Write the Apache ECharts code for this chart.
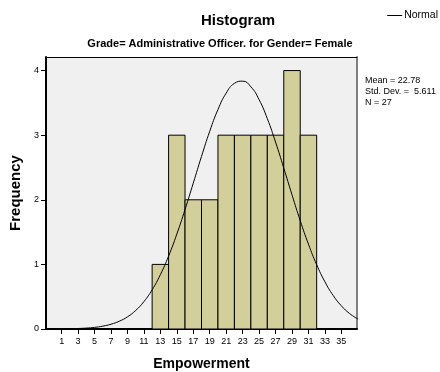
<!DOCTYPE html>
<html>
<head>
<meta charset="utf-8">
<script src="https://cdn.jsdelivr.net/npm/echarts@6/dist/echarts.min.js"></script>
<style>
  html, body { margin: 0; padding: 0; background: #fff; }
  #chart { width: 440px; height: 372px; }
</style>
</head>
<body>
<div id="chart"></div>
<script>
// Histogram bins (lower edge, upper edge) and their counts
const binStarts = [12, 14, 16, 18, 20, 22, 24, 26, 28, 30];
const binEnds   = [14, 16, 18, 20, 22, 24, 26, 28, 30, 32];
const binCounts = [1, 3, 2, 2, 3, 3, 3, 3, 4, 3];

// Fitted normal curve, sampled at whole Empowerment values
const curveX = [-1, 0, 1, 2, 3, 4, 5, 6, 7, 8, 9, 10, 11, 12, 13, 14, 15, 16, 17, 18,
                19, 20, 21, 22, 23, 24, 25, 26, 27, 28, 29, 30, 31, 32, 33, 34, 35, 36, 37];
const curveY = [0.0005, 0.001, 0.002, 0.004, 0.008, 0.014, 0.025, 0.044, 0.074, 0.120,
                0.188, 0.287, 0.424, 0.607, 0.841, 1.129, 1.469, 1.850, 2.258, 2.671,
                3.060, 3.396, 3.651, 3.802, 3.836, 3.749, 3.550, 3.256, 2.893, 2.491,
                2.077, 1.677, 1.313, 0.995, 0.731, 0.520, 0.359, 0.239, 0.155];

// Axis ticks
const xTicks = [1, 3, 5, 7, 9, 11, 13, 15, 17, 19, 21, 23, 25, 27, 29, 31, 33, 35];
const yTicks = [0, 1, 2, 3, 4];

// Summary statistics
const statLines = ['Mean = 22.78', 'Std. Dev. =  5.611', 'N = 27'];

const FONT = '"Liberation Sans", Arial, sans-serif';

const chart = echarts.init(document.getElementById('chart'), null, { renderer: 'canvas' });

const histData = binStarts.map((s, i) => [s, binEnds[i], binCounts[i]]);
const curveData = curveX.map((x, i) => [x, curveY[i]]);

chart.setOption({
  animation: false,
  backgroundColor: '#ffffff',
  textStyle: { fontFamily: FONT },
  title: [
    {
      text: 'Histogram',
      left: 238, top: 13, textAlign: 'center', padding: 0,
      textStyle: { fontFamily: FONT, fontSize: 15, fontWeight: 'bold', color: '#000' }
    },
    {
      text: 'Grade= Administrative Officer. for Gender= Female',
      left: 220, top: 38, textAlign: 'center', padding: 0,
      textStyle: { fontFamily: FONT, fontSize: 11, fontWeight: 'bold', color: '#000' }
    },
    {
      text: statLines.join('\n'),
      left: 365, top: 75, padding: 0,
      textStyle: { fontFamily: FONT, fontSize: 9, fontWeight: 'normal', color: '#000', lineHeight: 11 }
    }
  ],
  legend: {
    data: ['Normal'],
    right: 2, top: 10, padding: 0,
    icon: 'rect',
    itemWidth: 15, itemHeight: 1,
    itemGap: 4,
    textStyle: { fontFamily: FONT, fontSize: 10.5, color: '#000', padding: [0, 0, 0, -3] }
  },
  grid: {
    left: 46, right: 83, top: 57, bottom: 43,
    outerBoundsMode: 'none',
    containLabel: false,
    show: true,
    backgroundColor: '#f0f0f0',
    borderWidth: 0
  },
  xAxis: [
    {
      type: 'value',
      min: -0.9, max: 36.9,
      name: 'Empowerment',
      nameLocation: 'middle',
      nameGap: 28,
      nameTextStyle: { fontFamily: FONT, fontSize: 14, fontWeight: 'bold', color: '#000' },
      axisLine: { show: true, onZero: false, lineStyle: { color: '#000', width: 2 } },
      axisTick: { show: true, length: 5, customValues: xTicks, lineStyle: { color: '#000', width: 1 } },
      axisLabel: { show: true, customValues: xTicks, fontFamily: FONT, fontSize: 9, color: '#000', margin: 8 },
      splitLine: { show: false }
    },
    {
      type: 'value',
      position: 'top',
      min: -0.9, max: 36.9,
      axisLine: { show: true, onZero: false, lineStyle: { color: '#000', width: 1 } },
      axisTick: { show: false },
      axisLabel: { show: false },
      splitLine: { show: false }
    }
  ],
  yAxis: [
    {
      type: 'value',
      min: 0, max: 4.21,
      name: 'Frequency',
      nameLocation: 'middle',
      nameGap: 22,
      nameRotate: 90,
      nameTextStyle: { fontFamily: FONT, fontSize: 15, fontWeight: 'bold', color: '#000' },
      axisLine: { show: true, onZero: false, lineStyle: { color: '#000', width: 2 } },
      axisTick: { show: true, length: 5, customValues: yTicks, lineStyle: { color: '#000', width: 1 } },
      axisLabel: { show: true, customValues: yTicks, fontFamily: FONT, fontSize: 9, color: '#000', margin: 7 },
      splitLine: { show: false }
    },
    {
      type: 'value',
      position: 'right',
      min: 0, max: 4.21,
      axisLine: { show: true, onZero: false, lineStyle: { color: '#808080', width: 2 } },
      axisTick: { show: false },
      axisLabel: { show: false },
      splitLine: { show: false }
    }
  ],
  series: [
    {
      name: 'Frequency',
      type: 'custom',
      xAxisIndex: 0,
      yAxisIndex: 0,
      data: histData,
      encode: { x: [0, 1], y: 2 },
      z: 2,
      renderItem: function (params, api) {
        const topLeft = api.coord([api.value(0), api.value(2)]);
        const bottomRight = api.coord([api.value(1), 0]);
        return {
          type: 'rect',
          shape: {
            x: topLeft[0],
            y: topLeft[1],
            width: bottomRight[0] - topLeft[0],
            height: bottomRight[1] - topLeft[1]
          },
          style: { fill: '#d3cf9b', stroke: '#000', lineWidth: 1 }
        };
      }
    },
    {
      name: 'Normal',
      type: 'line',
      xAxisIndex: 0,
      yAxisIndex: 0,
      data: curveData,
      smooth: true,
      showSymbol: false,
      clip: true,
      z: 5,
      lineStyle: { color: '#000', width: 1 },
      itemStyle: { color: '#000' }
    }
  ]
});
</script>
</body>
</html>
